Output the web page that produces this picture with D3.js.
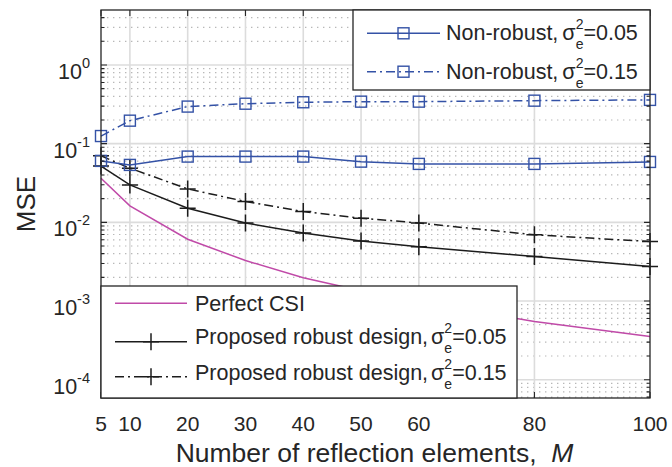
<!DOCTYPE html>
<html><head><meta charset="utf-8">
<script src="https://cdn.jsdelivr.net/npm/d3@7"></script>
<style>
body{margin:0;background:#fff;}
svg text{font-family:"Liberation Sans",Arial,Helvetica,sans-serif;fill:#262626;white-space:pre;}
</style></head><body>
<svg id="chart" width="672" height="467"></svg>
<script>
// Number of reflection elements
const M = [5, 10, 20, 30, 40, 50, 60, 80, 100];
// MSE per scheme
const nonRobust005 = [0.0604, 0.0537, 0.0685, 0.0685, 0.0685, 0.0591, 0.0553, 0.0553, 0.0586];
const nonRobust015 = [0.125, 0.196, 0.296, 0.322, 0.336, 0.342, 0.342, 0.352, 0.360];
const perfectCSI   = [0.0364, 0.0162, 0.0061, 0.00327, 0.00197, 0.00135, 0.00098, 0.00055, 0.000355];
const robust005    = [0.052, 0.0299, 0.0151, 0.0098, 0.0073, 0.0058, 0.0049, 0.00368, 0.00275];
const robust015    = [0.070, 0.0488, 0.0266, 0.0184, 0.0137, 0.0113, 0.0098, 0.00694, 0.0057];
const xTicks = [5, 10, 20, 30, 40, 50, 60, 80, 100];
const yDecades = [-4, -3, -2, -1, 0];

const W = 672, H = 467;
const margin = {left: 101, right: 22, top: 10, bottom: 69};
const x0 = margin.left, x1 = W - margin.right, y0 = margin.top, y1 = H - margin.bottom;

const x = d3.scaleLinear().domain([5, 100]).range([x0, x1]);
const y = d3.scaleLog().domain([5.85e-5, 5]).range([y1, y0]);

const AX = "#262626", BLUE = "#3452a6", MAG = "#c04aa8", BLK = "#1c1c1c";
const svg = d3.select("#chart");

// ---- grid ----
const grid = svg.append("g");
const minorVals = [];
for (let k = -5; k <= 0; k++) for (let m = 2; m <= 9; m++) {
  const v = m * Math.pow(10, k);
  if (v > y.domain()[0] && v < y.domain()[1]) minorVals.push(v);
}
grid.selectAll(".minor").data(minorVals).join("line")
  .attr("x1", x0).attr("x2", x1).attr("y1", d => y(d)).attr("y2", d => y(d))
  .attr("stroke", "#b8b8b8").attr("stroke-width", 1.2).attr("stroke-dasharray", "1.4,4.6");
grid.selectAll(".major").data(yDecades).join("line")
  .attr("x1", x0).attr("x2", x1).attr("y1", d => y(Math.pow(10, d))).attr("y2", d => y(Math.pow(10, d)))
  .attr("stroke", "#dcdcdc").attr("stroke-width", 1.6);
grid.selectAll(".xg").data(xTicks.filter(t => t > 5 && t < 100)).join("line")
  .attr("x1", d => x(d)).attr("x2", d => x(d)).attr("y1", y0).attr("y2", y1)
  .attr("stroke", "#dcdcdc").attr("stroke-width", 1.6);

// ---- series ----
const series = [
  {vals: perfectCSI, color: MAG, dash: null, marker: null},
  {vals: robust005, color: BLK, dash: null, marker: "plus"},
  {vals: robust015, color: BLK, dash: "9,4,2,4", marker: "plus"},
  {vals: nonRobust005, color: BLUE, dash: null, marker: "square"},
  {vals: nonRobust015, color: BLUE, dash: "9,4,2,4", marker: "square"}
];
const line = d3.line().x(d => x(d[0])).y(d => y(d[1]));

function drawMarker(g, type, cx, cy, color) {
  if (type === "square") {
    g.append("rect").attr("x", cx - 5.5).attr("y", cy - 5.5).attr("width", 11).attr("height", 11)
      .attr("fill", "none").attr("stroke", color).attr("stroke-width", 1.4);
  } else if (type === "plus") {
    g.append("path").attr("d", `M${cx - 8},${cy}H${cx + 8}M${cx},${cy - 8.5}V${cy + 8.5}`)
      .attr("stroke", color).attr("stroke-width", 1.5).attr("fill", "none");
  }
}

const plot = svg.append("g");
series.forEach(s => {
  const pts = M.map((m, i) => [m, s.vals[i]]);
  plot.append("path").attr("d", line(pts)).attr("fill", "none")
    .attr("stroke", s.color).attr("stroke-width", 1.5)
    .attr("stroke-dasharray", s.dash);
  if (s.marker) pts.forEach(p => drawMarker(plot, s.marker, x(p[0]), y(p[1]), s.color));
});

// ---- axes box and ticks ----
const ax = svg.append("g");
ax.append("rect").attr("x", x0).attr("y", y0).attr("width", x1 - x0).attr("height", y1 - y0)
  .attr("fill", "none").attr("stroke", AX).attr("stroke-width", 1.3);
const tickPath = [];
xTicks.forEach(t => {
  const px = x(t);
  tickPath.push(`M${px},${y1}V${y1 - 6}`, `M${px},${y0}V${y0 + 6}`);
});
yDecades.forEach(d => {
  const py = y(Math.pow(10, d));
  tickPath.push(`M${x0},${py}H${x0 + 6}`, `M${x1},${py}H${x1 - 6}`);
});
minorVals.forEach(v => {
  const py = y(v);
  tickPath.push(`M${x0},${py}H${x0 + 3.5}`, `M${x1},${py}H${x1 - 3.5}`);
});
ax.append("path").attr("d", tickPath.join("")).attr("stroke", AX).attr("stroke-width", 1.1).attr("fill", "none");

// x tick labels
ax.selectAll(".xl").data(xTicks).join("text")
  .attr("x", d => x(d)).attr("y", 430.5).attr("text-anchor", "middle")
  .attr("font-size", 21).text(d => d);

// y tick labels: 10^k
yDecades.forEach(d => {
  const t = ax.append("text").attr("x", 90).attr("y", y(Math.pow(10, d)) + 14)
    .attr("text-anchor", "end").attr("font-size", 21.5);
  t.append("tspan").text("10");
  t.append("tspan").attr("dy", -11).attr("font-size", 14.5).text(d);
});

// axis titles
const xl = ax.append("text").attr("x", (x0 + x1) / 2 - 1).attr("y", 461.5)
  .attr("text-anchor", "middle").attr("font-size", 26.5);
xl.append("tspan").text("Number of reflection elements,  ");
xl.append("tspan").attr("font-style", "italic").text("M");
ax.append("text").attr("transform", `translate(35,${(y0 + y1) / 2}) rotate(-90)`)
  .attr("text-anchor", "middle").attr("font-size", 26).text("MSE");

// ---- legends ----
function sigmaLabel(t, prefix, val, gap) {
  t.append("tspan").text(prefix);
  t.append("tspan").attr("dx", gap).text("\u03C3");
  t.append("tspan").attr("dy", -11).attr("font-size", 14).text("2");
  t.append("tspan").attr("dx", "-0.556em").attr("dy", 20).attr("font-size", 14).text("e");
  t.append("tspan").attr("dy", -9).text("=" + val);
}

function legend(box, rows) {
  const g = svg.append("g");
  g.append("rect").attr("x", box.x).attr("y", box.y).attr("width", box.w).attr("height", box.h)
    .attr("fill", "#fff").attr("stroke", AX).attr("stroke-width", 1.3);
  rows.forEach(r => {
    g.append("line").attr("x1", box.lx0).attr("x2", box.lx1).attr("y1", r.y).attr("y2", r.y)
      .attr("stroke", r.s.color).attr("stroke-width", 1.5).attr("stroke-dasharray", r.s.dash);
    if (r.s.marker) drawMarker(g, r.s.marker, (box.lx0 + box.lx1) / 2, r.y, r.s.color);
    const t = g.append("text").attr("x", box.tx).attr("y", r.base).attr("font-size", 21.5);
    if (r.val) sigmaLabel(t, r.label, r.val, r.gap); else t.text(r.label);
  });
}

legend({x: 353, y: y0, w: x1 - 353, h: 80, lx0: 367, lx1: 440, tx: 446}, [
  {y: 33.3, base: 39.5, s: series[3], label: "Non-robust,", gap: 4, val: "0.05"},
  {y: 71.7, base: 78.5, s: series[4], label: "Non-robust,", gap: 4, val: "0.15"}
]);
legend({x: x0, y: 286, w: 517 - x0, h: y1 - 286, lx0: 115, lx1: 187, tx: 195}, [
  {y: 303.3, base: 311, s: series[0], label: "Perfect CSI"},
  {y: 341.7, base: 344, s: series[1], label: "Proposed robust design,", gap: 3, val: "0.05"},
  {y: 376.7, base: 380, s: series[2], label: "Proposed robust design,", gap: 3, val: "0.15"}
]);
</script>
</body></html>
